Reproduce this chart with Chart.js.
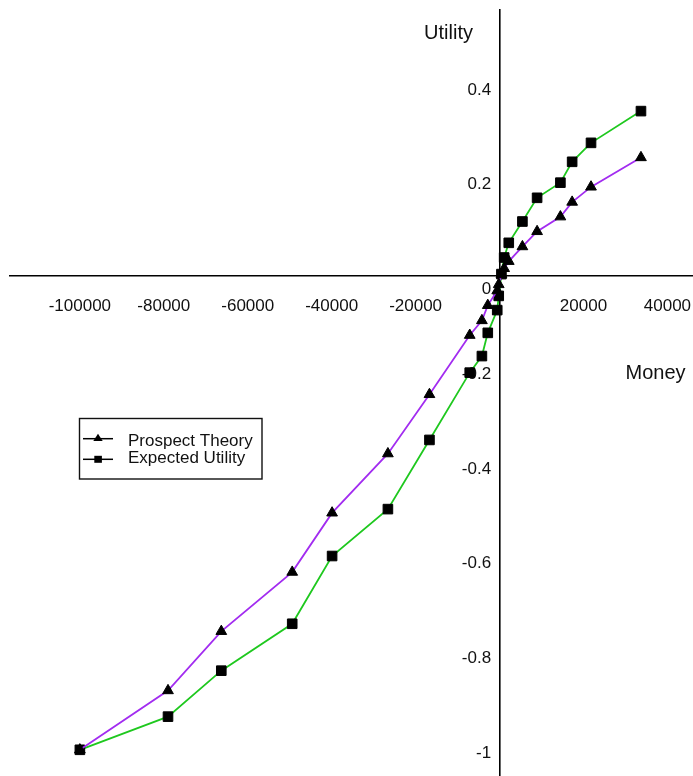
<!DOCTYPE html>
<html>
<head>
<meta charset="utf-8">
<script src="https://cdn.jsdelivr.net/npm/chart.js@4/dist/chart.umd.min.js"></script>
<style>
  html, body { margin: 0; padding: 0; background: #fff; }
  #wrap { width: 693px; height: 776px; }
</style>
</head>
<body>
<div id="wrap"><canvas id="c" width="693" height="776"></canvas></div>
<script>
// Money outcomes (x) shared by both utility curves
const money = [-100000, -79000, -66300, -49400, -39900, -26600, -16700, -7100, -4200, -2800,
               -550, -190, 450, 1100, 2200, 5450, 8950, 14500, 17300, 21800, 33700];
// Utility under prospect theory
const prospectTheory = [-1.0, -0.875, -0.75, -0.625, -0.5, -0.375, -0.25, -0.125, -0.094, -0.062,
                        -0.031, -0.018, 0.003, 0.016, 0.031, 0.062, 0.094, 0.125, 0.156, 0.188, 0.25];
// Utility under expected utility theory
const expectedUtility = [-1.0, -0.930, -0.833, -0.734, -0.591, -0.492, -0.346, -0.204, -0.169, -0.120,
                         -0.072, -0.042, 0.004, 0.039, 0.070, 0.115, 0.165, 0.197, 0.241, 0.281, 0.348];
// Axis tick labels
const moneyTicks = [-100000, -80000, -60000, -40000, -20000, 20000, 40000];
const utilityTicks = [0.4, 0.2, 0, -0.2, -0.4, -0.6, -0.8, -1];
const seriesNames = ['Prospect Theory', 'Expected Utility'];
const axisTitles = { x: 'Money', y: 'Utility' };

const FONT_FAMILY = "'Liberation Sans', Arial, Helvetica, sans-serif";
const tickFont = { family: FONT_FAMILY, size: 17, lineHeight: 1.2 };

// Visible ranges of the two crossing axes
const X_MIN = -116650, X_MAX = 46100;
const Y_MIN = -1.0553, Y_MAX = 0.5614;

// Crossing axes live inside the plot, so they must not push the plot edges inward
const noEdgePadding = s => {
  s.paddingLeft = 0; s.paddingRight = 0; s.paddingTop = 0; s.paddingBottom = 0;
};

// Axis titles and the boxed legend drawn on top of the plot
const overlay = {
  id: 'overlay',
  afterDraw(chart) {
    const ctx = chart.ctx;
    const ox = chart.scales.x.getPixelForValue(0);
    const oy = chart.scales.y.getPixelForValue(0);
    const area = chart.chartArea;
    ctx.save();

    ctx.fillStyle = '#111';
    ctx.font = '20px ' + FONT_FAMILY;
    ctx.textAlign = 'center';
    ctx.textBaseline = 'alphabetic';
    ctx.fillText(axisTitles.y, ox - 51, area.top + 29);
    ctx.fillText(axisTitles.x, ox + 156, oy + 103);

    // legend frame
    const bx = 79.5, by = 418.5, bw = 182.5, bh = 60.5;
    ctx.fillStyle = '#fff';
    ctx.fillRect(bx, by, bw, bh);
    ctx.strokeStyle = '#111';
    ctx.lineWidth = 1.4;
    ctx.strokeRect(bx, by, bw, bh);

    const lineY = [438.7, 459.3];
    const textY = [445.7, 462.7];
    ctx.font = '17px ' + FONT_FAMILY;
    ctx.textAlign = 'left';
    chart.data.datasets.forEach((ds, i) => {
      const y = lineY[i];
      ctx.strokeStyle = '#000';
      ctx.lineWidth = 1.5;
      ctx.beginPath();
      ctx.moveTo(83, y);
      ctx.lineTo(113, y);
      ctx.stroke();
      ctx.fillStyle = '#000';
      ctx.beginPath();
      if (ds.pointStyle === 'triangle') {
        ctx.moveTo(98, y - 5);
        ctx.lineTo(102.7, y + 2.3);
        ctx.lineTo(93.3, y + 2.3);
        ctx.closePath();
      } else {
        ctx.rect(94.3, y - 3.5, 7.6, 7);
      }
      ctx.fill();
      ctx.fillStyle = '#111';
      ctx.fillText(ds.label, 128, textY[i]);
    });
    ctx.restore();
  }
};

const toPoints = ys => money.map((m, i) => ({ x: m, y: ys[i] }));

new Chart(document.getElementById('c'), {
  type: 'line',
  data: {
    datasets: [
      {
        label: seriesNames[0],
        data: toPoints(prospectTheory),
        borderColor: '#a22cf0',
        borderWidth: 1.8,
        tension: 0,
        pointStyle: 'triangle',
        pointRadius: 6.2,
        pointBackgroundColor: '#000',
        pointBorderColor: '#000',
        pointBorderWidth: 1,
        yAxisID: 'y'
      },
      {
        label: seriesNames[1],
        data: toPoints(expectedUtility),
        borderColor: '#1ec81e',
        borderWidth: 1.8,
        tension: 0,
        pointStyle: 'rect',
        pointRadius: 6.8,
        pointBackgroundColor: '#000',
        pointBorderColor: '#000',
        pointBorderWidth: 1,
        yAxisID: 'y'
      }
    ]
  },
  options: {
    responsive: false,
    animation: false,
    events: [],
    layout: { autoPadding: false, padding: { left: 10, top: 10, right: 0, bottom: 0 } },
    plugins: { legend: { display: false }, tooltip: { enabled: false } },
    scales: {
      x: {
        type: 'linear',
        min: X_MIN,
        max: X_MAX,
        position: { y: 0 },
        grid: { display: false, drawTicks: false },
        border: { display: true, color: '#000', width: 1.6 },
        afterBuildTicks: s => { s.ticks = moneyTicks.map(v => ({ value: v })); },
        afterFit: noEdgePadding,
        ticks: {
          font: tickFont,
          color: '#111',
          padding: 20,
          maxRotation: 0,
          autoSkip: false,
          callback: v => String(v)
        }
      },
      y: {
        type: 'linear',
        min: Y_MIN,
        max: Y_MAX,
        position: { x: 0 },
        grid: { display: false, drawTicks: false },
        border: { display: true, color: '#000', width: 1.6 },
        afterFit: noEdgePadding,
        ticks: { display: false }
      },
      // value labels set just left of the vertical axis line
      yLabels: {
        axis: 'y',
        type: 'linear',
        min: Y_MIN,
        max: Y_MAX,
        position: { x: -2000 },
        grid: { display: false, drawTicks: false },
        border: { display: false },
        afterBuildTicks: s => { s.ticks = utilityTicks.map(v => ({ value: v })); },
        afterFit: noEdgePadding,
        ticks: {
          font: tickFont,
          color: '#111',
          padding: 0,
          labelOffset: 3.5,
          autoSkip: false,
          // the origin label sits one line below the horizontal axis
          callback: v => (v === 0 ? ['', '0'] : String(v))
        }
      }
    }
  },
  plugins: [overlay]
});
</script>
</body>
</html>
